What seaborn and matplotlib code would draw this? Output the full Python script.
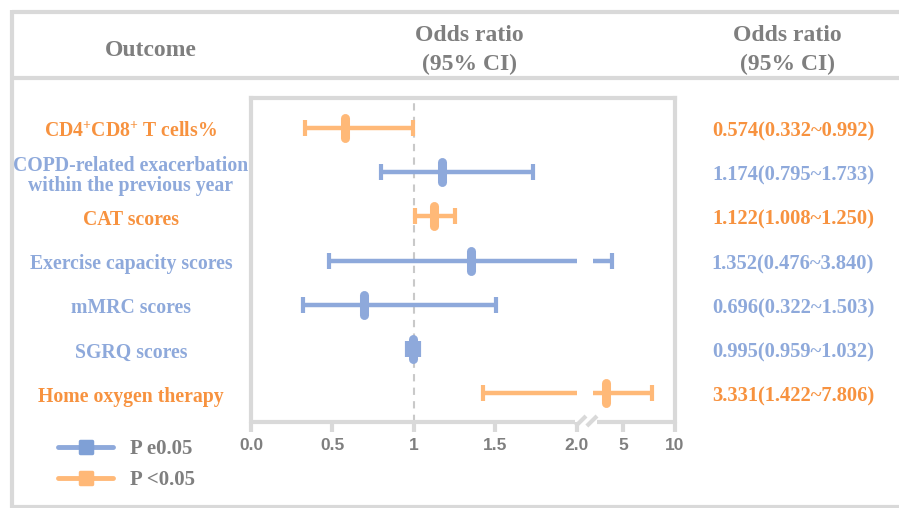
import numpy as np
import pandas as pd
import matplotlib
matplotlib.use("Agg")
import matplotlib.pyplot as plt
import seaborn as sns
from matplotlib.lines import Line2D
from matplotlib.markers import MarkerStyle
from matplotlib.transforms import blended_transform_factory

# data
outcomes = ["CD4$^{+}$CD8$^{+}$ T cells%",
            "COPD-related exacerbation\nwithin the previous year",
            "CAT scores",
            "Exercise capacity scores",
            "mMRC scores",
            "SGRQ scores",
            "Home oxygen therapy"]
odds = [0.574, 1.174, 1.122, 1.352, 0.696, 0.995, 3.331]
lower = [0.332, 0.795, 1.008, 0.476, 0.322, 0.959, 1.422]
upper = [0.992, 1.733, 1.250, 3.840, 1.503, 1.032, 7.806]
significant = [True, False, True, False, False, False, True]
xticks = [0, 0.5, 1, 1.5, 2, 5, 10]
xtick_labels = ["0.0", "0.5", "1", "1.5", "2.0", "5", "10"]
legend_labels = ["P e0.05", "P <0.05"]

# colours
blue_line = "#8EA9DB"
orange_line = "#FFB978"
blue_text = "#8EA9DB"
orange_text = "#F7923F"
gray_text = "#7F7F7F"
frame_gray = "#D9D9D9"

sns.set_theme(style="white")
plt.rcParams["font.family"] = ["Liberation Serif", "DejaVu Serif"]
plt.rcParams["font.weight"] = "bold"
plt.rcParams["mathtext.fontset"] = "custom"
plt.rcParams["mathtext.rm"] = "Liberation Serif:bold"
plt.rcParams["mathtext.bf"] = "Liberation Serif:bold"
plt.rcParams["mathtext.it"] = "Liberation Serif:bold:italic"
plt.rcParams["mathtext.default"] = "rm"

W, H = 899, 508
fig = plt.figure(figsize=(W / 100, H / 100), dpi=100)
fig.patch.set_facecolor("white")

def fx(px):
    return px / W

def fy(py):
    return 1 - py / H

# outer table frame
for xs, ys in [([12, 905], [12, 12]), ([12, 12], [10, 515]),
               ([12, 905], [78, 78]), ([12, 905], [507, 507])]:
    fig.add_artist(Line2D([fx(x) for x in xs], [fy(y) for y in ys],
                          color=frame_gray, lw=3, solid_capstyle="butt"))

# headers
hdr = dict(ha="center", va="center", color=gray_text, fontsize=17,
           fontweight="bold", linespacing=1.45)
fig.text(fx(151), fy(51), "Outcome", **hdr)
fig.text(fx(469), fy(50), "Odds ratio\n(95% CI)", **hdr)
fig.text(fx(787), fy(50), "Odds ratio\n(95% CI)", **hdr)

ax = fig.add_axes([fx(251), fy(421.5), 423.5 / W, 323.5 / H])

# broken x scale: linear 0-2, compressed 2-10 after a gap
BREAK, GAP, K = 2.0, 0.098, 0.0626

def fwd(x):
    x = np.asarray(x, dtype=float)
    return np.where(x <= BREAK, x, BREAK + GAP + (x - BREAK) * K)

def inv(y):
    y = np.asarray(y, dtype=float)
    return np.where(y <= BREAK, y, BREAK + (y - BREAK - GAP) / K)

ax.set_xscale("function", functions=(fwd, inv))

rows = np.arange(len(outcomes))
ax.axvline(1, color="#C9C9C9", ls=(0, (3.5, 3)), lw=1.5, zorder=1)

for i, (lo, hi, sig) in enumerate(zip(lower, upper, significant)):
    c = orange_line if sig else blue_line
    ax.plot([lo, min(hi, BREAK)], [i, i], color=c, lw=3.2,
            solid_capstyle="butt", zorder=2)
    if hi > BREAK:
        ax.plot([BREAK + 1e-6, hi], [i, i], color=c, lw=3.2,
                solid_capstyle="butt", zorder=2)
    ax.plot([lo, hi], [i, i], ls="none", marker="|", ms=11, mew=3,
            color=c, zorder=2)

df = pd.DataFrame({"odds": odds, "row": rows,
                   "group": [legend_labels[1] if s else legend_labels[0]
                             for s in significant]})
sns.scatterplot(data=df, x="odds", y="row", hue="group",
                palette={legend_labels[0]: blue_line, legend_labels[1]: orange_line},
                marker="|", s=207, linewidth=6.5, legend=False, ax=ax, zorder=3)
ax.collections[-1].set_capstyle("round")

ax.set_xlim(0, 10)
ax.set_ylim(6.64, -0.679)
ax.set_xlabel("")
ax.set_ylabel("")
ax.set_yticks([])
ax.set_xticks(xticks)
ax.set_xticklabels(xtick_labels, fontfamily="Liberation Sans",
                   fontweight="bold", fontsize=12.5, color=gray_text)
ax.xaxis.get_major_ticks()[4].tick1line.set_visible(False)
ax.tick_params(axis="x", bottom=True, direction="out", length=7, width=3,
               color=frame_gray, pad=5)
ax.minorticks_off()

for side in ["left", "right", "top"]:
    ax.spines[side].set_color(frame_gray)
    ax.spines[side].set_linewidth(3)
ax.spines["bottom"].set_visible(False)

# bottom spine with break marks
ax.plot([0, 0.765], [0, 0], transform=ax.transAxes, color=frame_gray,
        lw=3, clip_on=False, solid_capstyle="butt")
ax.plot([0.817, 1.0], [0, 0], transform=ax.transAxes, color=frame_gray,
        lw=3, clip_on=False, solid_capstyle="butt")
for x0 in [0.767, 0.793]:
    ax.plot([x0, x0 + 0.024], [-0.014, 0.017], transform=ax.transAxes,
            color=frame_gray, lw=3, clip_on=False, solid_capstyle="butt")

# left labels and right values
trans = blended_transform_factory(fig.transFigure, ax.transData)
for i, (name, o, lo, hi, sig) in enumerate(zip(outcomes, odds, lower, upper, significant)):
    c = orange_text if sig else blue_text
    ax.text(fx(131), i + 0.08, name, transform=trans, ha="center", va="center",
            color=c, fontsize=14.2, fontweight="bold", linespacing=1.0,
            clip_on=False)
    ax.text(fx(793), i + 0.08, f"{o:.3f}({lo:.3f}~{hi:.3f})", transform=trans,
            ha="center", va="center", color=c, fontsize=14.8, fontweight="bold",
            clip_on=False)

# legend
handles = [
    Line2D([], [], color=blue_line, lw=3.5,
           marker=MarkerStyle("s", joinstyle="round"), ms=9, mew=2.5,
           mfc="#7FA0D6", mec="#7FA0D6"),
    Line2D([], [], color=orange_line, lw=3.5,
           marker=MarkerStyle("s", joinstyle="round"), ms=9, mew=2.5,
           mfc="#FFB877", mec="#FFB877"),
]
fig.legend(handles, legend_labels, loc="upper left",
           bbox_to_anchor=(fx(58), fy(439)), frameon=False,
           handlelength=2.65, handletextpad=0.8, labelspacing=0.55,
           borderpad=0, borderaxespad=0, labelcolor=gray_text,
           prop={"family": "Liberation Serif", "weight": "bold", "size": 15})

fig.savefig("out.png", dpi=100, facecolor="white")
